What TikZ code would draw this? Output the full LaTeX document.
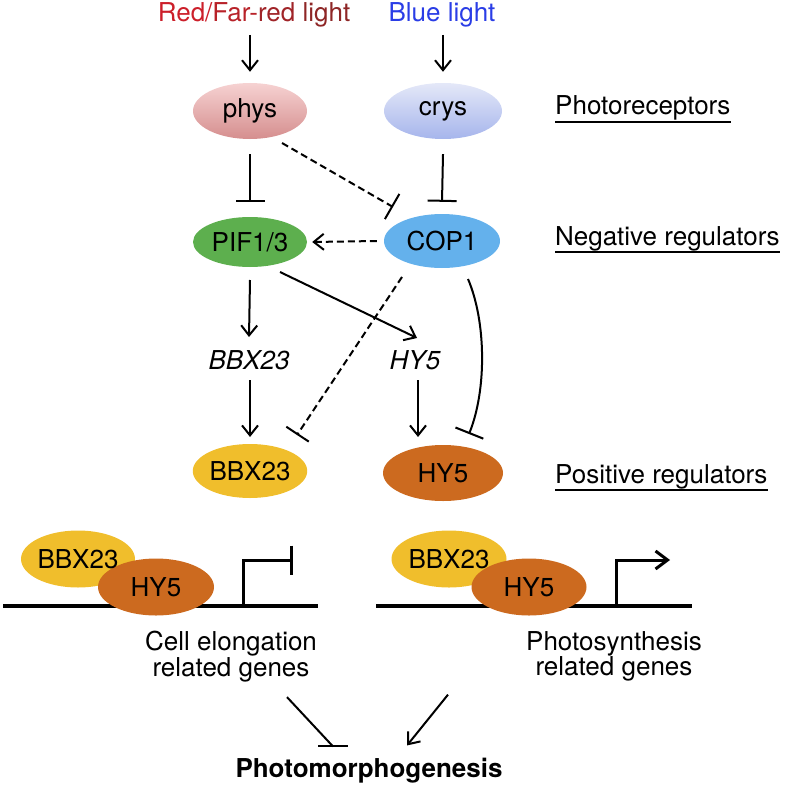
\documentclass[tikz,border=0pt]{standalone}
\usepackage{fontspec}
\setmainfont{TeX Gyre Heros}
\usetikzlibrary{shapes.geometric,arrows.meta,calc}
\definecolor{redA}{HTML}{CC1F2A}
\definecolor{redB}{HTML}{B82229}
\definecolor{redC}{HTML}{A02428}
\definecolor{redD}{HTML}{8E2626}
\definecolor{blueL}{HTML}{2A3DE6}
\definecolor{physTop}{HTML}{F6D2D2}
\definecolor{physBot}{HTML}{D58E8E}
\definecolor{crysTop}{HTML}{E4E8F8}
\definecolor{crysBot}{HTML}{A6B5EC}
\definecolor{pifG}{HTML}{5DAF4E}
\definecolor{copB}{HTML}{64B1EC}
\definecolor{bbxY}{HTML}{F0BE2C}
\definecolor{hyO}{HTML}{CC6A1F}
\begin{document}
\begin{tikzpicture}[x=1pt,y=-1pt,
  font=\fontsize{26}{30}\selectfont,
  lw/.style={line width=2pt},
  arr/.style={lw,-{Straight Barb[length=10pt,width=16pt]}},
  inh/.style={lw,-{Bar[width=29pt]}},
  dsh/.style={dash pattern=on 7pt off 4pt},
  prot/.style={ellipse,inner sep=0pt,draw=none,minimum width=114pt,minimum height=54pt},
  txt/.style={inner sep=0pt},
  lab/.style={inner sep=0pt,anchor=base west},
  ul/.style={line width=1.6pt},
  gene/.style={inner sep=0pt,align=center,anchor=north,font=\fontsize{26}{22}\selectfont}]
\useasboundingbox (0,0) rectangle (789,789);

% light labels
\node[txt,anchor=base] (red) at (254,22) {\textcolor{redA}{Red/}\textcolor{redB}{Far-}\textcolor{redC}{red }\textcolor{redD}{light}};
\node[txt,anchor=base] (blue) at (442,22) {\textcolor{blueL}{Blue light}};

% photoreceptors
\node[prot,minimum height=56pt,top color=physTop,bottom color=physBot] (phys) at (250,111) {phys};
\node[prot,minimum width=118pt,minimum height=56pt,top color=crysTop,bottom color=crysBot] (crys) at (443,111) {crys};

% negative regulators
\node[prot,fill=pifG,minimum height=50pt] (pif) at (250,242) {PIF1/3};
\node[prot,fill=copB,minimum width=116pt,minimum height=54pt] (cop) at (442,241) {COP1};

% genes
\node[txt] (bbxg) at (249,360) {\itshape BBX23};
\node[txt] (hyg) at (415,360) {\itshape HY5};

% positive regulators
\node[prot,fill=bbxY] (bbxp) at (250,471) {BBX23};
\node[prot,fill=hyO,minimum width=120pt,minimum height=56pt] (hyp) at (443,473) {HY5};

% right labels
\node[lab] (l1) at (555,115) {Photoreceptors};
\node[lab] (l2) at (555,245) {Negative regulators};
\node[lab] (l3) at (555,483) {Positive regulators};
\draw[ul] ($(l1.south west)+(0,1)$) -- ($(l1.south east)+(0,1)$);
\draw[ul] ($(l2.south west)+(0,1)$) -- ($(l2.south east)+(0,1)$);
\draw[ul] ($(l3.south west)+(0,1)$) -- ($(l3.south east)+(0,1)$);

% connectors top
\draw[arr] ($(red.base -| phys.north)+(0,13)$) -- ($(phys.north)+(0,-11)$);
\draw[arr] ($(blue.base -| crys.north)+(0,13)$) -- ($(crys.north)+(0,-11)$);
\draw[inh] ($(phys.south)+(0,15)$) -- ($(pif.north)+(0,-15)$);
\draw[inh] ($(crys.south)+(0,15)$) -- ($(cop.north)+(0,-12)$);
\draw[inh,dsh] ($(phys.center)+(32,32)$) -- ($(cop.center)+(-49,-34)$);
\draw[arr,dsh] ($(cop.west)+(-7,0)$) -- ($(pif.east)+(5,0)$);
\draw[arr] ($(pif.center)+(0,38)$) -- ($(bbxg.center)+(0,-23)$);
\draw[arr] ($(pif.center)+(30,30)$) -- ($(hyg.center)+(2,-22)$);
\draw[arr] ($(bbxg.center)+(1,20)$) -- ($(bbxp.center)+(0,-34)$);
\draw[arr] ($(hyg.center)+(3,20)$) -- ($(hyp.center)+(-25,-36)$);
\draw[inh,dsh,-{Bar[width=27pt]}] ($(cop.center)+(-40,36)$) -- ($(bbxp.center)+(47,-36)$);
\draw[lw,-{Bar[width=30pt]}] ($(cop.center)+(26,38)$) .. controls ($(cop.center)+(44,80)$) and ($(hyp.center)+(44,-84)$) .. ($(hyp.center)+(26,-39)$);

% left gene module
\coordinate (d1s) at (3,606);
\coordinate (d1e) at (318,606);
\coordinate (pr1) at (243,606);
\draw[line width=4pt] (d1s) -- (d1e);
\node[prot,fill=bbxY,minimum height=57pt] (b1) at (78,559) {};
\node[prot,fill=hyO,minimum width=116pt,minimum height=57pt] (h1) at (156,587) {HY5};
\node[txt] at (b1) {BBX23};
\draw[line width=3pt,-{Bar[width=29pt]}] (pr1) -- ++(0,-46) -- ++(50,0);
\node[gene] (cell) at (231,631) {Cell elongation\\related genes};

% right gene module
\coordinate (d2s) at (376,606);
\coordinate (d2e) at (692,606);
\coordinate (pr2) at (616,606);
\draw[line width=4pt] (d2s) -- (d2e);
\node[prot,fill=bbxY,minimum width=115pt,minimum height=57pt] (b2) at (449,559) {};
\node[prot,fill=hyO,minimum width=115pt,minimum height=57pt] (h2) at (529,587) {HY5};
\node[txt] at (b2) {BBX23};
\draw[line width=3pt,-{Straight Barb[length=12pt,width=18pt]}] (pr2) -- ++(0,-46) -- ++(54,0);
\node[gene] (photos) at (614,631) {Photosynthesis\\related genes};

% bottom
\node[txt,anchor=base] (photo) at (369,777) {\bfseries Photomorphogenesis};
\coordinate (ie) at ($(photo.north)+(-36,-11)$);
\draw[lw] ($(cell.south)+(56,15)$) -- (ie);
\draw[lw] ($(ie)+(-15,0)$) -- ($(ie)+(15,0)$);
\draw[arr] ($(photos.south)+(-166,13)$) -- ($(photo.north)+(38,-12)$);
\end{tikzpicture}
\end{document}
